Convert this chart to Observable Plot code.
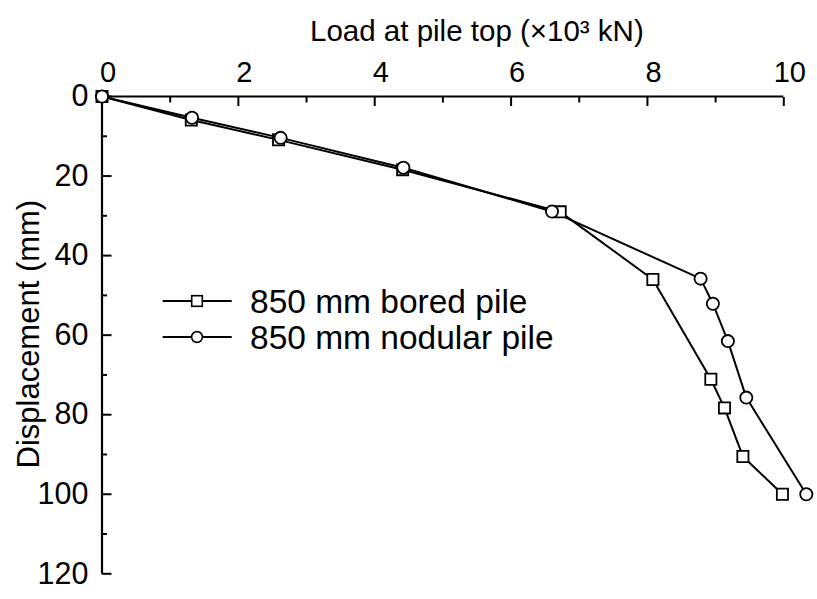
<!DOCTYPE html>
<html><head><meta charset="utf-8">
<script src="https://cdn.jsdelivr.net/npm/d3@7"></script>
<script src="https://cdn.jsdelivr.net/npm/@observablehq/plot@0.6"></script>
<style>
body{margin:0;background:#fff;font-family:"Liberation Sans",Arial,sans-serif;}
#wrap{position:relative;width:817px;height:599px;overflow:hidden;}
#legend{position:absolute;left:0;top:0;pointer-events:none;}
</style></head><body><div id="wrap"></div>
<script>
// ---- data ----
const seriesNames = ["850 mm bored pile", "850 mm nodular pile"];
const boredLoad = [0, 1.31, 2.59, 4.41, 6.72, 8.08, 8.93, 9.13, 9.40, 9.98];
const boredDisp = [0, 5.9, 10.9, 18.4, 29.0, 46.0, 71.1, 78.3, 90.5, 100];
const nodularLoad = [0, 1.32, 2.62, 4.42, 6.60, 8.78, 8.96, 9.18, 9.45, 10.33];
const nodularDisp = [0, 5.35, 10.4, 17.9, 28.9, 45.8, 52.1, 61.5, 75.7, 100];
const xMajorTicks = [0, 2, 4, 6, 8, 10];
const xMinorTicks = [1, 3, 5, 7, 9];
const yMajorTicks = [0, 20, 40, 60, 80, 100, 120];
const yMinorTicks = [10, 30, 50, 70, 90, 110];
const xTitle = "Load at pile top (×10³ kN)";
const yTitle = "Displacement (mm)";

const bored = boredLoad.map((x, i) => ({x, y: boredDisp[i]}));
const nodular = nodularLoad.map((x, i) => ({x, y: nodularDisp[i]}));

const FX = 29, FY = 30.5, FT = 29.5, FL = 31;
const LFS = 33.5;
const noText = () => "";
const chart = Plot.plot({
  width: 817, height: 599,
  marginTop: 96, marginLeft: 101.5, marginRight: 33.7, marginBottom: 25.7,
  style: {fontFamily: "'Liberation Sans', Arial, sans-serif", fontSize: FX + "px", color: "#000", background: "#fff", overflow: "visible"},
  x: {domain: [0, 10]},
  y: {domain: [0, 120], reverse: true},
  marks: [
    // tick labels
    Plot.axisX(xMajorTicks, {anchor: "top", tickSize: 0, tickPadding: 15, dx: 6, fontSize: FX, label: null}),
    Plot.axisY(yMajorTicks, {anchor: "left", tickSize: 0, tickPadding: 13.5, fontSize: FY, label: null}),
    // inward tick marks
    Plot.axisX(xMajorTicks, {anchor: "top", tickSize: 9, dy: 9, tickFormat: noText, strokeWidth: 2, label: null}),
    Plot.axisX(xMinorTicks, {anchor: "top", tickSize: 5.5, dy: 5.5, tickFormat: noText, strokeWidth: 2, label: null}),
    Plot.axisY(yMajorTicks, {anchor: "left", tickSize: 10, dx: 10, tickFormat: noText, strokeWidth: 2, label: null}),
    Plot.axisY(yMinorTicks, {anchor: "left", tickSize: 5.5, dx: 5.5, tickFormat: noText, strokeWidth: 2, label: null}),
    // frame: top and left
    Plot.ruleX([0], {stroke: "#000", strokeWidth: 2.2}),
    Plot.ruleY([0], {stroke: "#000", strokeWidth: 2.2}),
    // titles
    Plot.text([xTitle], {frameAnchor: "top", dy: -65, dx: 34, fontSize: FT, lineAnchor: "middle", textAnchor: "middle"}),
    Plot.text([yTitle], {frameAnchor: "left", rotate: -90, dx: -73, dy: -1, fontSize: FL, lineAnchor: "middle", textAnchor: "middle"}),
    // data
    Plot.line(bored, {x: "x", y: "y", stroke: "#000", strokeWidth: 2}),
    Plot.line(nodular, {x: "x", y: "y", stroke: "#000", strokeWidth: 2}),
    Plot.dot(bored, {x: "x", y: "y", symbol: "square", r: 6.3, fill: "#fff", stroke: "#000", strokeWidth: 1.8}),
    Plot.dot(nodular, {x: "x", y: "y", symbol: "circle", r: 6.1, fill: "#fff", stroke: "#000", strokeWidth: 1.8})
  ]
});
const wrap = document.getElementById("wrap");
wrap.appendChild(chart);

// ---- legend overlay ----
const lg = d3.select(wrap).append("svg").attr("id", "legend").attr("width", 817).attr("height", 599);
const rows = [{name: seriesNames[0], sym: "square", y: 301}, {name: seriesNames[1], sym: "circle", y: 337}];
for (const r of rows) {
  const g = lg.append("g");
  g.append("line").attr("x1", 162.7).attr("x2", 231.7).attr("y1", r.y).attr("y2", r.y).attr("stroke", "#000").attr("stroke-width", 1.8);
  if (r.sym === "square") {
    g.append("rect").attr("x", 197 - 5.3).attr("y", r.y - 5.3).attr("width", 10.6).attr("height", 10.6).attr("fill", "#fff").attr("stroke", "#000").attr("stroke-width", 1.6);
  } else {
    g.append("circle").attr("cx", 197).attr("cy", r.y).attr("r", 5.4).attr("fill", "#fff").attr("stroke", "#000").attr("stroke-width", 1.6);
  }
  g.append("text").attr("x", 250).attr("y", r.y + 0.36 * LFS).attr("font-size", LFS).attr("font-family", "'Liberation Sans', Arial, sans-serif").attr("fill", "#000").text(r.name);
}
</script>
</body></html>
